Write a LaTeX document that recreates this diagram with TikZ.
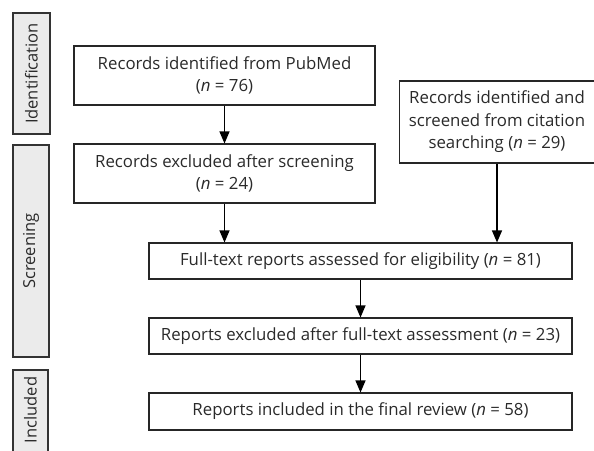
\documentclass[tikz,border=0pt]{standalone}
\usepackage{fontspec}
\setmainfont{Open Sans}
\usetikzlibrary{arrows.meta}
\definecolor{txt}{HTML}{2A2A2A}
\definecolor{side}{HTML}{EBEBEB}
\tikzset{
  box/.style={draw=black!85, line width=1.1pt, inner sep=2pt, align=center, text=txt, font=\fontsize{16.8}{22.5}\selectfont},
  sidebox/.style={draw=black!80, fill=side, line width=1.1pt, inner sep=0pt},
  sidetext/.style={rotate=90, text=txt, font=\fontsize{16.5}{20}\selectfont},
  arr/.style={draw=black, line width=1.2pt, -{Triangle[length=12pt,width=10pt]}}
}
\begin{document}
\begin{tikzpicture}[x=1pt,y=-1pt]
\useasboundingbox (0,0) rectangle (594,450);
\clip (0,0) rectangle (594,450);
% side labels
\node[sidebox, minimum width=37pt, minimum height=121pt] (sid) at (31.5,73.5) {};
\node[sidetext] (sidt) at (sid.center) {Identification};
\node[sidebox, minimum width=36pt, minimum height=212pt] (sscr) at (31,251) {};
\node[sidetext] (sscrt) at (sscr.center) {Screening};
\node[sidebox, minimum width=35pt, minimum height=90pt] (sinc) at (30.5,415) {};
\node[sidetext] (sinct) at (30.5,410) {Included};
% boxes
\node[box, minimum width=301pt, minimum height=59pt] (b1) at (224.5,75.5) {Records identified from PubMed\\(\textit{n} = 76)};
\node[box, minimum width=301pt, minimum height=59pt] (b2) at (224.5,173.5) {Records excluded after screening\\(\textit{n} = 24)};
\node[box, minimum width=195pt, minimum height=82pt] (cite) at (497,122) {Records identified and\\screened from citation\\searching (\textit{n} = 29)};
\node[box, minimum width=423pt, minimum height=36pt] (full) at (360.5,261) {Full-text reports assessed for eligibility (\textit{n} = 81)};
\node[box, minimum width=423pt, minimum height=36pt] (excl) at (360.5,336) {Reports excluded after full-text assessment (\textit{n} = 23)};
\node[box, minimum width=423pt, minimum height=37pt] (incl) at (360.5,411.5) {Reports included in the final review (\textit{n} = 58)};
% arrows
\draw[arr] (b1.south) -- (b2.north);
\draw[arr] (b2.south) -- (b2.south |- full.north);
\draw[arr] (cite.south) -- (cite.south |- full.north);
\draw[arr] (full.south) -- (excl.north);
\draw[arr] (excl.south) -- (incl.north);
\end{tikzpicture}
\end{document}
